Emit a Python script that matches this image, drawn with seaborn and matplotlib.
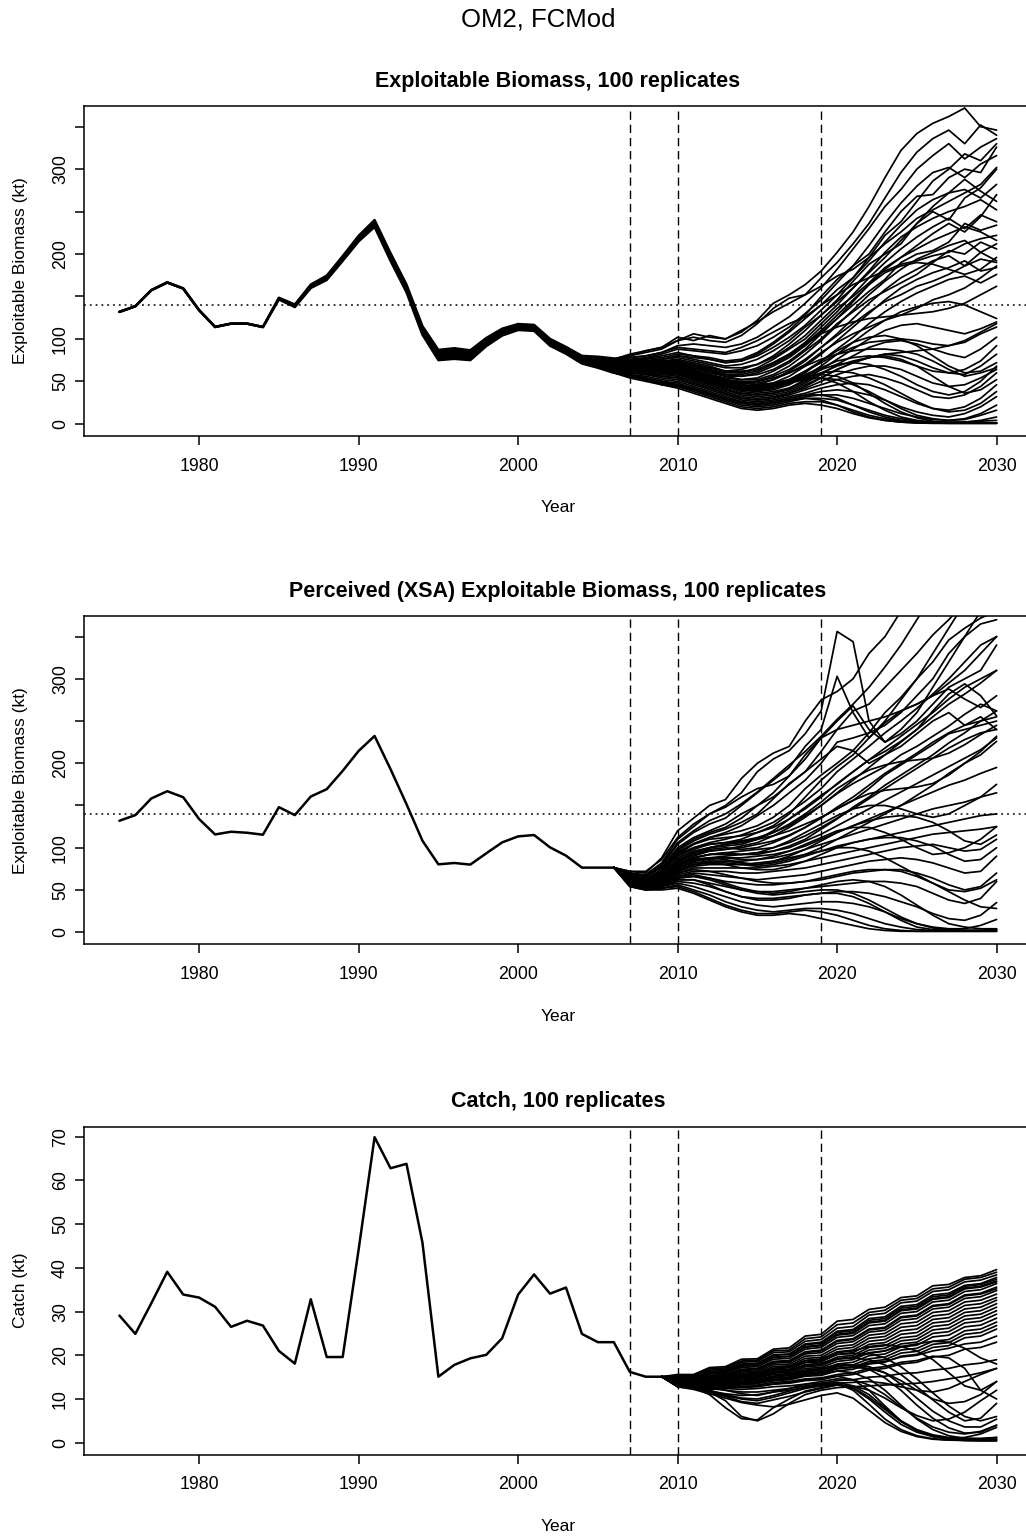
import numpy as np
import pandas as pd
import matplotlib
matplotlib.use("Agg")
import matplotlib.pyplot as plt
import seaborn as sns

# ---------------------------------------------------------------- data
hist_years = list(range(1975, 2007))

# Exploitable biomass (kt), 1975-2006: central run and replicate envelope
eb_hist_mid = [131.8, 138.5, 157.4, 166.5, 159.4, 133.8, 114.1, 118.0, 118.0, 114.0,
               147.6, 138.9, 162.0, 172.0, 194.8, 218.4, 236.0, 196.7, 159.4, 110.0,
               80.6, 82.6, 80.6, 96.3, 108.0, 114.0, 113.0, 96.0, 86.5, 75.5, 72.7, 68.8]
eb_hist_hi = [131.8, 138.5, 157.4, 166.5, 159.4, 133.8, 114.1, 118.0, 118.0, 114.0,
              148.5, 140.5, 164.0, 174.5, 197.5, 221.5, 240.0, 201.0, 164.0, 115.0,
              87.0, 89.0, 86.5, 101.0, 112.0, 117.5, 116.5, 100.0, 90.5, 80.0, 79.0, 77.0]
eb_hist_lo = [131.8, 138.5, 157.4, 166.5, 159.4, 133.8, 114.1, 118.0, 118.0, 114.0,
              146.5, 137.5, 160.0, 169.5, 192.0, 215.0, 232.0, 192.0, 155.0, 105.0,
              75.0, 76.5, 75.0, 91.5, 104.0, 110.5, 109.5, 92.0, 82.5, 71.0, 66.0, 60.0]

# Exploitable biomass projections (kt), 2006-2030
eb_proj_years = list(range(2006, 2031))
eb_proj = [
    [76, 82, 86, 90, 102, 98, 104, 100, 108, 122, 142, 152, 164, 180, 202, 226, 256, 290, 322, 342, 354, 362, 372, 350, 346],
    [77, 80, 84, 88, 98, 102, 98, 96, 104, 118, 136, 148, 152, 172, 190, 212, 236, 266, 296, 320, 336, 346, 330, 352, 340],
    [74, 78, 80, 84, 92, 94, 92, 90, 94, 102, 114, 126, 142, 160, 182, 206, 230, 256, 276, 300, 316, 330, 312, 326, 336],
    [74, 76, 78, 82, 88, 86, 84, 82, 86, 92, 102, 114, 130, 146, 166, 186, 210, 236, 260, 280, 296, 302, 290, 306, 316],
    [72, 74, 76, 78, 82, 80, 76, 72, 74, 80, 90, 102, 116, 134, 152, 172, 192, 214, 234, 252, 264, 272, 276, 266, 282],
    [72, 72, 74, 76, 78, 74, 70, 66, 66, 70, 78, 90, 104, 122, 140, 160, 180, 202, 220, 232, 242, 250, 256, 264, 252],
    [70, 72, 72, 74, 76, 72, 68, 62, 62, 64, 72, 82, 96, 114, 132, 152, 172, 190, 206, 220, 232, 242, 230, 246, 238],
    [70, 70, 72, 72, 74, 70, 64, 58, 56, 58, 64, 74, 88, 106, 124, 144, 164, 182, 196, 206, 216, 224, 232, 226, 216],
    [68, 70, 70, 70, 72, 68, 62, 56, 52, 52, 58, 68, 82, 98, 116, 134, 152, 168, 182, 194, 202, 210, 216, 202, 212],
    [68, 68, 68, 68, 70, 64, 58, 52, 48, 48, 52, 62, 74, 90, 106, 124, 142, 158, 172, 182, 192, 198, 186, 202, 192],
    [66, 68, 68, 68, 68, 62, 56, 50, 46, 44, 48, 56, 68, 82, 98, 114, 130, 146, 160, 170, 178, 184, 192, 180, 184],
    [66, 66, 66, 66, 66, 60, 54, 48, 44, 42, 44, 50, 60, 74, 88, 102, 118, 132, 144, 154, 162, 170, 174, 166, 176],
    [66, 66, 64, 64, 64, 58, 52, 46, 40, 38, 40, 46, 56, 68, 82, 96, 110, 122, 132, 138, 142, 144, 140, 132, 124],
    [64, 64, 64, 62, 62, 56, 50, 44, 38, 36, 38, 42, 52, 64, 76, 88, 100, 110, 116, 118, 114, 110, 106, 112, 120],
    [64, 64, 62, 60, 60, 54, 48, 42, 36, 34, 36, 40, 48, 58, 70, 80, 90, 96, 98, 94, 88, 82, 78, 88, 102],
    [64, 62, 60, 58, 58, 52, 46, 40, 34, 32, 34, 38, 46, 54, 64, 72, 78, 82, 80, 74, 66, 60, 58, 68, 82],
    [62, 62, 60, 58, 56, 50, 44, 38, 32, 30, 32, 36, 42, 50, 58, 64, 68, 68, 64, 56, 48, 44, 46, 54, 64],
    [62, 60, 58, 56, 54, 48, 42, 36, 30, 28, 30, 34, 40, 46, 52, 56, 58, 54, 48, 40, 32, 30, 34, 44, 60],
    [62, 60, 58, 54, 52, 46, 40, 34, 28, 26, 28, 32, 36, 42, 46, 48, 46, 40, 32, 24, 18, 16, 20, 30, 46],
    [60, 58, 56, 52, 50, 44, 38, 32, 26, 24, 26, 30, 34, 38, 40, 38, 34, 28, 20, 14, 10, 8, 12, 20, 32],
    [60, 58, 54, 50, 48, 42, 36, 30, 24, 22, 24, 28, 32, 34, 34, 30, 24, 18, 12, 8, 5, 4, 5, 10, 16],
    [60, 56, 52, 48, 46, 40, 34, 28, 22, 20, 22, 26, 30, 30, 28, 22, 16, 10, 6, 3, 2, 2, 2, 3, 4],
    [60, 56, 52, 46, 44, 38, 32, 26, 20, 18, 20, 24, 26, 26, 22, 16, 10, 6, 3, 1.5, 1, 1, 1, 1, 1],
    [60, 54, 50, 46, 42, 36, 30, 24, 18, 16, 18, 22, 24, 22, 18, 12, 7, 4, 2, 1, 1, 1, 1, 1, 1],
    [76, 80, 86, 90, 98, 106, 102, 100, 110, 120, 132, 142, 152, 162, 174, 182, 196, 212, 226, 242, 252, 262, 272, 282, 302],
    [70, 72, 74, 76, 80, 78, 76, 72, 74, 82, 94, 108, 124, 140, 152, 164, 172, 180, 188, 192, 198, 202, 212, 218, 222],
    [68, 68, 70, 70, 72, 68, 64, 60, 60, 64, 72, 82, 94, 106, 114, 120, 124, 126, 128, 130, 132, 136, 142, 152, 162],
    [64, 64, 66, 64, 64, 60, 56, 52, 50, 50, 54, 60, 68, 76, 82, 86, 88, 88, 86, 82, 74, 64, 56, 60, 66],
    [75, 78, 80, 84, 90, 88, 86, 84, 90, 98, 108, 118, 126, 140, 158, 172, 196, 222, 238, 262, 286, 300, 318, 310, 330],
    [73, 75, 77, 80, 84, 80, 78, 74, 76, 84, 96, 110, 128, 150, 170, 186, 200, 226, 250, 268, 270, 290, 300, 296, 326],
    [71, 73, 74, 76, 80, 76, 72, 68, 70, 76, 86, 98, 114, 128, 146, 168, 188, 200, 212, 236, 250, 240, 266, 278, 300],
    [69, 71, 72, 72, 74, 70, 66, 62, 60, 66, 76, 88, 100, 118, 136, 150, 166, 184, 196, 210, 224, 236, 226, 244, 270],
    [67, 69, 70, 70, 72, 66, 60, 56, 56, 60, 68, 78, 92, 108, 124, 140, 156, 170, 190, 200, 204, 214, 236, 228, 234],
    [65, 67, 68, 68, 68, 62, 58, 54, 52, 54, 62, 72, 86, 100, 118, 132, 146, 156, 166, 176, 190, 204, 200, 214, 206],
    [63, 65, 66, 66, 66, 60, 56, 50, 48, 50, 56, 64, 76, 90, 104, 118, 132, 144, 152, 162, 168, 176, 186, 194, 190],
    [61, 63, 64, 64, 64, 58, 52, 48, 44, 46, 52, 60, 70, 84, 96, 106, 114, 122, 128, 136, 146, 152, 160, 172, 186],
    [63, 64, 64, 62, 60, 56, 50, 46, 42, 42, 46, 52, 62, 72, 82, 90, 96, 98, 100, 98, 94, 92, 96, 106, 114],
    [61, 62, 62, 60, 58, 54, 48, 44, 40, 40, 44, 50, 58, 66, 74, 78, 80, 78, 74, 68, 62, 60, 64, 74, 92],
    [65, 66, 66, 64, 62, 56, 50, 44, 40, 38, 42, 48, 56, 64, 70, 72, 70, 64, 56, 46, 38, 34, 38, 50, 68],
    [67, 68, 68, 66, 64, 58, 52, 46, 42, 40, 42, 48, 54, 60, 62, 60, 54, 46, 36, 26, 18, 14, 16, 24, 38],
    [69, 70, 70, 68, 66, 60, 54, 48, 44, 42, 44, 48, 52, 54, 52, 46, 38, 28, 18, 10, 6, 4, 6, 12, 22],
    [71, 72, 72, 70, 68, 62, 56, 50, 46, 44, 46, 50, 54, 54, 48, 38, 26, 16, 8, 4, 2, 1.5, 2, 4, 8],
    [73, 74, 74, 72, 70, 64, 58, 52, 48, 46, 48, 52, 56, 58, 56, 48, 36, 24, 14, 7, 3, 1.5, 1, 1, 1],
    [64, 64, 62, 60, 58, 52, 46, 40, 36, 34, 36, 42, 50, 60, 68, 74, 78, 80, 76, 68, 56, 44, 36, 40, 52],
    [62, 62, 60, 56, 54, 48, 42, 36, 30, 28, 30, 36, 44, 54, 64, 72, 78, 82, 84, 86, 88, 92, 98, 108, 118],
    [68, 70, 70, 70, 70, 66, 62, 58, 58, 62, 70, 80, 94, 110, 128, 146, 164, 178, 186, 190, 188, 182, 176, 182, 196],
    [70, 72, 74, 74, 74, 70, 66, 62, 64, 70, 80, 94, 110, 128, 144, 160, 178, 196, 216, 236, 256, 272, 288, 274, 262],
    [66, 66, 66, 64, 62, 56, 50, 44, 40, 40, 44, 52, 62, 74, 86, 96, 102, 104, 100, 92, 80, 68, 60, 62, 72],
    [60, 56, 52, 48, 44, 40, 34, 28, 24, 22, 24, 28, 30, 28, 22, 14, 8, 4, 2, 1, 0.5, 0.5, 0.5, 0.5, 0.5],
    [62, 58, 54, 50, 46, 42, 36, 30, 26, 24, 26, 30, 34, 34, 30, 22, 14, 8, 4, 2, 1, 0.5, 0.5, 0.5, 0.5],
]

# Perceived (XSA) exploitable biomass (kt), 1975-2006
xsa_hist = [131.9, 138.6, 158.3, 166.9, 159.8, 133.9, 115.7, 118.9, 117.7, 115.4,
            148.0, 138.6, 160.6, 169.3, 191.0, 214.6, 232.3, 193.0, 151.6, 108.3,
            80.3, 81.9, 80.0, 93.3, 106.3, 113.4, 115.0, 100.4, 90.6, 76.4, 76.4, 76.4]

# Perceived biomass projections (kt), 2007-2030
xsa_proj_years = list(range(2007, 2031))
xsa_proj = [
    [72, 70, 88, 120, 135, 150, 157, 182, 200, 212, 220, 250, 275, 285, 300, 330, 350, 380, 420, 450, 480, 500, 520, 540],
    [70, 68, 82, 110, 125, 140, 150, 165, 190, 205, 215, 235, 262, 356, 344, 250, 225, 240, 260, 290, 320, 350, 380, 400],
    [68, 66, 78, 104, 118, 128, 135, 150, 165, 180, 195, 220, 240, 303, 260, 230, 250, 275, 300, 330, 360, 390, 420, 460],
    [68, 64, 74, 98, 110, 118, 124, 135, 150, 165, 185, 210, 230, 250, 268, 240, 225, 235, 250, 270, 290, 300, 310, 340],
    [66, 62, 72, 94, 105, 112, 118, 126, 138, 150, 165, 180, 200, 225, 230, 236, 245, 260, 280, 300, 330, 350, 365, 370],
    [66, 62, 70, 90, 100, 106, 110, 115, 122, 130, 142, 155, 170, 190, 205, 220, 236, 250, 265, 282, 300, 320, 340, 350],
    [64, 60, 68, 86, 96, 100, 104, 108, 112, 118, 126, 138, 150, 165, 180, 195, 210, 225, 240, 255, 270, 282, 295, 310],
    [64, 60, 66, 84, 92, 96, 98, 100, 104, 108, 115, 124, 135, 148, 160, 174, 188, 200, 212, 225, 236, 245, 250, 255],
    [64, 58, 64, 80, 88, 92, 94, 96, 98, 100, 106, 114, 124, 135, 146, 158, 170, 182, 194, 206, 218, 228, 236, 240],
    [62, 58, 64, 78, 86, 88, 90, 92, 94, 96, 100, 108, 116, 126, 136, 146, 156, 166, 176, 186, 196, 206, 216, 230],
    [62, 58, 62, 76, 84, 86, 88, 88, 90, 92, 96, 102, 110, 118, 126, 134, 142, 150, 158, 166, 174, 180, 188, 195],
    [62, 56, 62, 74, 80, 84, 84, 84, 86, 88, 92, 98, 104, 110, 116, 122, 128, 134, 140, 146, 150, 154, 160, 165],
    [62, 56, 60, 72, 78, 80, 80, 80, 82, 84, 88, 92, 96, 102, 106, 110, 114, 118, 122, 126, 130, 134, 138, 140],
    [60, 56, 60, 70, 76, 76, 76, 76, 76, 78, 80, 84, 88, 92, 96, 100, 104, 108, 112, 116, 118, 120, 122, 125],
    [60, 56, 58, 68, 72, 72, 72, 70, 70, 72, 74, 76, 80, 84, 88, 92, 96, 100, 102, 104, 100, 96, 98, 110],
    [60, 54, 58, 66, 70, 68, 66, 64, 62, 64, 66, 68, 72, 76, 80, 84, 86, 88, 86, 82, 76, 70, 72, 90],
    [58, 54, 56, 64, 66, 64, 60, 58, 56, 56, 58, 60, 62, 66, 70, 72, 74, 74, 70, 64, 56, 50, 54, 70],
    [58, 54, 56, 62, 62, 58, 54, 50, 48, 48, 50, 52, 54, 56, 58, 60, 60, 58, 54, 46, 38, 34, 40, 60],
    [58, 52, 54, 60, 58, 54, 48, 42, 40, 40, 42, 44, 46, 48, 48, 46, 42, 36, 30, 22, 16, 14, 20, 35],
    [56, 52, 54, 58, 54, 48, 42, 36, 32, 30, 32, 34, 36, 36, 34, 30, 24, 16, 10, 6, 4, 4, 8, 15],
    [56, 52, 52, 56, 50, 44, 36, 30, 26, 24, 26, 28, 28, 26, 22, 16, 10, 6, 3, 2, 2, 2, 2, 3],
    [56, 50, 52, 54, 48, 40, 32, 26, 22, 22, 24, 26, 24, 20, 14, 8, 4, 2, 1, 1, 1, 1, 1, 1],
    [54, 50, 50, 52, 46, 38, 30, 24, 20, 20, 22, 20, 16, 12, 8, 4, 2, 1, 1, 1, 1, 1, 1, 1],
    [72, 72, 86, 112, 128, 140, 148, 160, 170, 175, 185, 205, 230, 240, 245, 250, 255, 262, 270, 280, 295, 310, 330, 350],
    [70, 66, 76, 100, 112, 120, 128, 140, 150, 160, 175, 190, 205, 220, 215, 200, 210, 220, 235, 250, 260, 245, 255, 240],
    [66, 62, 70, 92, 100, 104, 106, 108, 110, 114, 120, 128, 136, 146, 156, 170, 186, 198, 210, 222, 235, 240, 245, 250],
    [66, 62, 72, 96, 108, 116, 122, 130, 140, 158, 176, 190, 214, 240, 262, 270, 290, 310, 330, 352, 370, 390, 410, 420],
    [64, 60, 70, 92, 104, 112, 116, 120, 126, 136, 150, 170, 186, 200, 215, 236, 260, 278, 300, 320, 346, 360, 372, 380],
    [62, 58, 66, 88, 98, 104, 106, 110, 118, 126, 140, 160, 180, 196, 210, 230, 248, 262, 270, 280, 288, 276, 266, 280],
    [60, 56, 64, 84, 94, 100, 102, 104, 110, 120, 134, 148, 162, 175, 190, 204, 214, 226, 240, 262, 282, 294, 280, 256],
    [58, 54, 62, 80, 90, 96, 98, 102, 106, 114, 124, 136, 150, 164, 176, 186, 196, 210, 220, 232, 244, 258, 270, 262],
    [62, 58, 64, 82, 92, 98, 100, 98, 100, 106, 114, 124, 136, 146, 156, 164, 168, 170, 172, 176, 186, 200, 210, 226],
    [60, 56, 62, 78, 88, 92, 94, 92, 94, 100, 108, 118, 128, 138, 146, 150, 150, 146, 140, 136, 140, 150, 160, 175],
    [58, 54, 60, 76, 84, 88, 88, 86, 86, 90, 96, 104, 112, 120, 124, 124, 118, 110, 100, 92, 94, 100, 110, 125],
    [56, 52, 58, 72, 80, 82, 82, 80, 78, 80, 84, 90, 96, 100, 100, 96, 88, 78, 68, 58, 50, 48, 52, 62],
    [60, 56, 62, 74, 80, 82, 80, 76, 74, 74, 78, 84, 92, 100, 106, 110, 112, 112, 108, 102, 92, 84, 86, 100],
    [62, 58, 64, 80, 86, 88, 86, 82, 80, 84, 90, 98, 108, 118, 126, 132, 136, 138, 136, 130, 120, 108, 104, 115],
    [64, 60, 66, 84, 94, 100, 104, 106, 110, 118, 128, 140, 154, 170, 182, 192, 198, 202, 204, 206, 212, 222, 234, 245],
    [58, 54, 60, 70, 74, 72, 68, 64, 60, 58, 58, 60, 64, 68, 72, 74, 74, 72, 66, 58, 48, 38, 30, 28],
    [56, 52, 56, 66, 68, 64, 58, 52, 48, 46, 48, 52, 56, 60, 62, 60, 54, 44, 32, 20, 10, 6, 4, 4],
    [54, 50, 54, 62, 62, 56, 48, 42, 38, 38, 40, 44, 46, 46, 42, 34, 24, 14, 6, 3, 2, 2, 2, 2],
    [56, 52, 56, 64, 66, 62, 56, 50, 46, 44, 46, 48, 50, 50, 46, 38, 28, 18, 10, 5, 3, 2, 2, 3],
    [68, 66, 80, 106, 120, 132, 140, 152, 166, 182, 198, 214, 232, 252, 270, 290, 314, 340, 370, 400, 420, 440, 460, 480],
    [66, 62, 72, 94, 104, 110, 112, 114, 118, 124, 134, 146, 160, 176, 190, 204, 218, 232, 246, 260, 276, 290, 300, 310],
    [62, 58, 64, 80, 88, 92, 92, 92, 92, 96, 102, 110, 122, 134, 148, 160, 174, 186, 198, 210, 224, 236, 250, 262],
    [60, 56, 62, 76, 82, 84, 84, 82, 80, 82, 86, 92, 100, 110, 120, 130, 140, 150, 162, 174, 188, 200, 214, 232],
]

# Catch (kt), 1975-2009
catch_years = list(range(1975, 2010))
catch_hist = [29.1, 24.9, 31.9, 39.1, 33.9, 33.2, 31.1, 26.5, 27.9, 26.8,
              21.0, 18.1, 32.8, 19.6, 19.6, 44.2, 69.9, 62.8, 63.8, 45.8,
              15.1, 17.8, 19.3, 20.1, 23.9, 33.9, 38.5, 34.1, 35.5, 24.9,
              23.0, 23.0, 16.2, 15.1, 15.1]

# Catch projections (kt), 2010-2030
catch_proj_years = list(range(2010, 2031))
catch_proj = [
    [15.6, 15.6, 17.2, 17.4, 19.1, 19.2, 21.4, 21.7, 24.4, 24.8, 27.8, 28.2, 30.5, 31.0, 33.2, 33.6, 35.9, 36.2, 37.8, 38.2, 39.6],
    [15.2, 15.2, 16.6, 16.8, 18.4, 18.6, 20.6, 20.8, 23.2, 23.6, 26.2, 26.6, 29.2, 29.6, 32.0, 32.4, 34.6, 35.0, 36.8, 37.2, 38.4],
    [14.8, 14.8, 16.0, 16.2, 17.6, 17.8, 19.6, 19.8, 22.0, 22.4, 24.8, 25.2, 27.6, 28.0, 30.4, 30.8, 33.0, 33.4, 35.4, 35.8, 37.0],
    [14.5, 14.5, 15.4, 15.6, 16.8, 17.0, 18.6, 18.8, 20.8, 21.2, 23.4, 23.8, 26.0, 26.4, 28.8, 29.2, 31.4, 31.8, 33.8, 34.2, 35.6],
    [14.2, 14.2, 15.0, 15.2, 16.2, 16.4, 17.8, 18.0, 19.8, 20.0, 22.0, 22.4, 24.6, 25.0, 27.2, 27.6, 29.8, 30.2, 32.2, 32.6, 34.0],
    [14.0, 14.0, 14.6, 14.8, 15.6, 15.8, 17.0, 17.2, 18.8, 19.0, 20.8, 21.2, 23.2, 23.6, 25.6, 26.0, 28.2, 28.6, 30.6, 31.0, 32.6],
    [13.8, 13.8, 14.2, 14.4, 15.0, 15.2, 16.2, 16.4, 17.8, 18.0, 19.6, 20.0, 21.8, 22.2, 24.0, 24.4, 26.6, 27.0, 29.0, 29.4, 31.0],
    [13.6, 13.6, 13.8, 14.0, 14.6, 14.8, 15.6, 15.8, 17.0, 17.2, 18.6, 19.0, 20.6, 21.0, 22.6, 23.0, 25.0, 25.4, 27.4, 27.8, 29.4],
    [13.4, 13.4, 13.4, 13.6, 14.0, 14.2, 14.8, 15.0, 16.0, 16.2, 17.4, 17.8, 19.2, 19.6, 21.2, 21.6, 23.2, 23.6, 25.6, 26.0, 27.6],
    [13.2, 13.2, 13.0, 13.2, 13.4, 13.6, 14.2, 14.4, 15.2, 15.4, 16.4, 16.8, 18.0, 18.4, 19.8, 20.2, 21.8, 22.2, 24.0, 24.4, 26.0],
    [13.0, 13.0, 12.6, 12.8, 12.8, 13.0, 13.4, 13.6, 14.2, 14.4, 15.2, 15.6, 16.6, 17.0, 18.0, 18.4, 19.6, 20.0, 21.4, 21.8, 23.0],
    [13.0, 12.8, 12.2, 12.4, 12.2, 12.4, 12.8, 13.0, 13.4, 13.6, 14.2, 14.4, 15.0, 15.2, 15.8, 16.0, 16.6, 17.0, 17.8, 18.2, 19.0],
    [12.8, 12.6, 11.8, 11.2, 10.8, 11.0, 11.6, 12.0, 12.6, 13.0, 13.6, 13.8, 14.0, 13.6, 12.8, 12.0, 11.6, 12.4, 14.0, 15.6, 17.0],
    [12.8, 12.4, 11.4, 10.6, 9.4, 9.0, 9.8, 10.6, 11.6, 12.4, 13.2, 13.0, 12.0, 10.2, 8.0, 6.2, 5.0, 5.4, 7.0, 9.6, 12.0],
    [13.0, 12.6, 11.0, 8.0, 5.5, 5.2, 8.0, 10.0, 11.8, 12.6, 13.2, 12.4, 10.0, 7.0, 4.2, 2.4, 1.4, 1.0, 1.2, 2.0, 3.5],
    [12.8, 12.2, 11.2, 10.2, 9.2, 8.6, 8.2, 8.8, 9.8, 10.8, 11.4, 10.2, 7.4, 4.6, 2.6, 1.4, 0.8, 0.6, 0.6, 0.6, 0.8],
    [13.2, 13.0, 12.4, 12.0, 11.6, 11.6, 12.0, 12.4, 13.0, 13.4, 13.6, 12.0, 8.8, 5.4, 3.0, 1.6, 0.9, 0.6, 0.5, 0.5, 0.5],
    [13.4, 13.2, 12.8, 12.6, 12.6, 12.8, 13.4, 13.8, 14.4, 14.8, 15.2, 14.4, 12.0, 8.4, 5.0, 2.8, 1.4, 0.8, 0.5, 0.4, 0.4],
    [13.6, 13.4, 13.2, 13.2, 13.4, 13.6, 14.2, 14.6, 15.4, 15.8, 16.4, 16.0, 14.6, 12.0, 8.6, 5.4, 3.0, 1.6, 1.0, 0.8, 1.2],
    [14.0, 13.8, 13.6, 13.8, 14.2, 14.4, 15.2, 15.6, 16.6, 17.0, 17.8, 17.8, 16.8, 14.8, 12.0, 8.6, 5.6, 3.4, 2.2, 2.4, 4.0],
    [14.4, 14.2, 14.2, 14.4, 15.0, 15.2, 16.2, 16.6, 17.8, 18.2, 19.2, 19.4, 19.0, 17.8, 15.6, 12.8, 9.8, 7.0, 5.0, 5.6, 9.0],
    [13.0, 12.6, 11.6, 9.6, 6.0, 5.0, 6.6, 9.0, 11.0, 12.0, 12.6, 12.8, 13.0, 13.2, 13.4, 13.6, 14.0, 14.6, 15.2, 16.0, 17.0],
    [14.6, 14.4, 14.6, 14.8, 15.6, 15.8, 17.0, 17.4, 18.8, 19.2, 20.6, 21.0, 22.0, 22.4, 22.0, 21.0, 19.0, 16.0, 13.0, 12.0, 14.0],
    [13.6, 13.4, 13.0, 13.0, 13.2, 13.2, 13.8, 14.0, 14.6, 14.8, 15.6, 16.0, 17.0, 17.4, 18.4, 18.8, 19.8, 19.4, 17.0, 12.0, 10.0],
    [15.4, 15.4, 16.9, 17.1, 18.7, 18.9, 21.0, 21.2, 23.8, 24.2, 27.0, 27.4, 29.8, 30.3, 32.6, 33.0, 35.2, 35.6, 37.4, 37.8, 39.0],
    [15.0, 15.0, 16.3, 16.5, 18.0, 18.2, 20.1, 20.3, 22.6, 23.0, 25.5, 25.9, 28.4, 28.8, 31.2, 31.6, 33.8, 34.2, 36.0, 36.4, 37.8],
    [14.7, 14.7, 15.7, 15.9, 17.2, 17.4, 19.1, 19.3, 21.4, 21.8, 24.1, 24.5, 26.8, 27.2, 29.6, 30.0, 32.2, 32.6, 34.6, 35.0, 36.4],
    [14.4, 14.4, 15.2, 15.4, 16.5, 16.7, 18.2, 18.4, 20.3, 20.6, 22.7, 23.1, 25.3, 25.7, 28.0, 28.4, 30.6, 31.0, 33.0, 33.4, 34.8],
    [14.1, 14.1, 14.8, 15.0, 15.9, 16.1, 17.4, 17.6, 19.3, 19.5, 21.4, 21.8, 23.9, 24.3, 26.4, 26.8, 29.0, 29.4, 31.4, 31.8, 33.2],
    [13.9, 13.9, 14.4, 14.6, 15.3, 15.5, 16.6, 16.8, 18.3, 18.5, 20.2, 20.6, 22.5, 22.9, 24.8, 25.2, 27.4, 27.8, 29.8, 30.2, 31.8],
    [13.7, 13.7, 14.0, 14.2, 14.8, 15.0, 15.9, 16.1, 17.4, 17.6, 19.1, 19.5, 21.2, 21.6, 23.3, 23.7, 25.8, 26.2, 28.2, 28.6, 30.2],
    [14.6, 14.6, 15.9, 16.1, 17.5, 17.7, 19.5, 19.7, 21.8, 22.2, 24.6, 25.0, 27.4, 27.8, 30.2, 30.6, 32.8, 33.2, 35.2, 35.6, 36.8],
    [14.3, 14.3, 15.3, 15.5, 16.7, 16.9, 18.5, 18.7, 20.6, 21.0, 23.2, 23.6, 25.8, 26.2, 28.6, 29.0, 31.2, 31.6, 33.6, 34.0, 35.2],
    [14.9, 14.9, 16.2, 16.4, 17.9, 18.1, 20.0, 20.2, 22.4, 22.8, 25.2, 25.6, 28.0, 28.4, 30.8, 31.2, 33.4, 33.8, 35.8, 36.2, 37.4],
    [13.5, 13.5, 13.6, 13.8, 14.3, 14.5, 15.2, 15.4, 16.5, 16.7, 18.0, 18.4, 19.9, 20.3, 21.9, 22.3, 24.2, 24.6, 26.5, 26.9, 28.5],
    [13.3, 13.3, 13.2, 13.4, 13.7, 13.9, 14.5, 14.7, 15.6, 15.8, 16.9, 17.3, 18.6, 19.0, 20.5, 20.9, 22.5, 22.9, 24.8, 25.2, 26.8],
    [14.2, 14.0, 13.6, 13.4, 13.6, 13.8, 14.6, 15.0, 15.8, 16.2, 17.0, 17.2, 17.0, 16.0, 14.2, 12.0, 10.0, 9.0, 9.4, 11.0, 14.0],
    [13.8, 13.4, 12.8, 12.0, 11.2, 10.8, 11.6, 12.4, 13.4, 14.0, 14.6, 14.4, 13.2, 11.0, 8.2, 5.6, 3.6, 2.4, 2.0, 2.6, 4.0],
    [13.2, 12.8, 12.0, 11.0, 10.2, 10.0, 10.8, 11.8, 12.8, 13.4, 13.8, 13.0, 11.0, 8.0, 5.0, 3.0, 1.8, 1.2, 1.0, 1.0, 1.2],
    [14.4, 14.2, 14.4, 14.6, 15.4, 15.6, 16.8, 17.2, 18.4, 18.8, 20.2, 20.4, 20.4, 19.4, 17.4, 14.6, 11.4, 8.4, 6.0, 5.0, 6.0],
    [13.9, 13.7, 13.6, 13.6, 14.0, 14.2, 15.0, 15.4, 16.2, 16.6, 17.6, 17.8, 17.4, 16.0, 13.4, 10.2, 7.2, 5.0, 3.6, 3.6, 5.4],
    [12.9, 12.5, 11.6, 10.8, 10.0, 9.6, 10.4, 11.4, 12.4, 13.0, 13.4, 12.6, 10.4, 7.6, 4.8, 2.8, 1.6, 1.0, 0.8, 0.8, 0.8],
    [14.1, 14.0, 14.2, 14.4, 15.0, 15.2, 16.2, 16.6, 17.6, 18.0, 19.2, 19.6, 20.4, 21.0, 22.0, 22.6, 23.2, 23.0, 21.6, 19.4, 18.0],
    [13.7, 13.5, 13.2, 13.2, 13.6, 13.8, 14.6, 14.8, 15.8, 16.0, 17.0, 17.4, 18.2, 18.6, 19.6, 20.0, 21.0, 21.6, 22.6, 23.0, 24.4],
]

ref_biomass = 140.0
marker_years = [2007, 2010, 2019]

panel_titles = ["Exploitable Biomass, 100 replicates",
                "Perceived (XSA) Exploitable Biomass, 100 replicates",
                "Catch, 100 replicates"]
y_labels = ["Exploitable Biomass (kt)", "Exploitable Biomass (kt)", "Catch (kt)"]
x_label = "Year"
main_title = "OM2, FCMod"

x_ticks = [1980, 1990, 2000, 2010, 2020, 2030]
bio_ticks = [0, 50, 100, 150, 200, 250, 300, 350]
bio_tick_labels = ["0", "50", "100", "", "200", "", "300", ""]
catch_ticks = [0, 10, 20, 30, 40, 50, 60, 70]
catch_tick_labels = ["0", "10", "20", "30", "40", "50", "60", "70"]


def long_form(years, runs, start=None):
    """Stack replicate runs into a long table; optionally prefix a shared start point."""
    rows = []
    for rep, run in enumerate(runs):
        ys = list(years)
        vs = list(run)
        if start is not None:
            ys = [start[0]] + ys
            vs = [start[1]] + vs
        for yr, v in zip(ys, vs):
            rows.append({"year": yr, "value": v, "rep": rep})
    return pd.DataFrame(rows)


# ---------------------------------------------------------------- style
sns.set_theme(style="ticks")
plt.rcParams['font.family'] = ['Liberation Sans', 'DejaVu Sans']
plt.rcParams['axes.linewidth'] = 1.1
plt.rcParams['axes.edgecolor'] = 'black'
plt.rcParams['text.color'] = 'black'
plt.rcParams['axes.labelcolor'] = 'black'
plt.rcParams['xtick.color'] = 'black'
plt.rcParams['ytick.color'] = 'black'

W, H = 1026, 1538
fig = plt.figure(figsize=(W / 100, H / 100), dpi=100)

# axes boxes in pixels: left, right, top, bottom
boxes = [(84.3, 1031.7, 106.0, 436.0),
         (84.3, 1031.7, 616.0, 944.3),
         (84.3, 1031.7, 1126.7, 1454.5)]

LW_FAN = 1.25
LW_HIST = 1.8
TICK_FS = 12.8
LABEL_FS = 12.5
TITLE_FS = 15.5


def make_axes(box):
    l, r, t, b = box
    return fig.add_axes([l / W, 1 - b / H, (r - l) / W, (b - t) / H])


def decorate(ax, box, title, ylabel, yticks, yticklabels, ylim):
    l, r, t, b = box
    hpx = b - t
    ax.set_xlim(1972.8, 2032.2)
    ax.set_ylim(*ylim)
    ax.set_xticks(x_ticks)
    ax.set_xticklabels([str(x) for x in x_ticks])
    ax.set_yticks(yticks)
    ax.set_yticklabels(yticklabels)
    ax.tick_params(axis='both', direction='out', length=6.5, width=1.1,
                   colors='black', labelsize=TICK_FS)
    ax.tick_params(axis='x', pad=9)
    ax.tick_params(axis='y', pad=4.5)
    plt.setp(ax.get_yticklabels(), rotation=90, va='center')
    for sp in ax.spines.values():
        sp.set_visible(True)
        sp.set_color('black')
        sp.set_linewidth(1.1)
    for yr in marker_years:
        ax.axvline(yr, color='black', lw=1.0, dashes=(6, 3.5), zorder=1)
    ax.set_xlabel(x_label, fontsize=LABEL_FS, va='center', color='black')
    ax.xaxis.set_label_coords(0.5, -71.8 / hpx)
    ax.set_ylabel(ylabel, fontsize=LABEL_FS, va='center', color='black')
    ax.yaxis.set_label_coords((20.5 - l) / (r - l), 0.5)
    ax.text(0.5, 1 + 25.0 / hpx, title, transform=ax.transAxes, ha='center',
            va='center', fontsize=TITLE_FS, fontweight='bold', color='black')


# ---------------------------------------------------------------- panel 1
ax1 = make_axes(boxes[0])
ax1.fill_between(hist_years, eb_hist_lo, eb_hist_hi, color='black', lw=0, zorder=2)
for series in (eb_hist_lo, eb_hist_mid, eb_hist_hi):
    sns.lineplot(x=hist_years, y=series, ax=ax1, color='black', lw=LW_HIST, zorder=3)
df1 = long_form(eb_proj_years, eb_proj)
sns.lineplot(data=df1, x="year", y="value", units="rep", estimator=None,
             color='black', lw=LW_FAN, ax=ax1, zorder=3)
ax1.axhline(ref_biomass, color='black', lw=1.1, dashes=(1.2, 2.6), zorder=1)
decorate(ax1, boxes[0], panel_titles[0], y_labels[0], bio_ticks, bio_tick_labels,
         (-14.4, 374.4))

# ---------------------------------------------------------------- panel 2
ax2 = make_axes(boxes[1])
sns.lineplot(x=hist_years, y=xsa_hist, ax=ax2, color='black', lw=LW_HIST, zorder=3)
df2 = long_form(xsa_proj_years, xsa_proj, start=(hist_years[-1], xsa_hist[-1]))
sns.lineplot(data=df2, x="year", y="value", units="rep", estimator=None,
             color='black', lw=LW_FAN, ax=ax2, zorder=3)
ax2.axhline(ref_biomass, color='black', lw=1.1, dashes=(1.2, 2.6), zorder=1)
decorate(ax2, boxes[1], panel_titles[1], y_labels[1], bio_ticks, bio_tick_labels,
         (-14.4, 374.4))

# ---------------------------------------------------------------- panel 3
ax3 = make_axes(boxes[2])
sns.lineplot(x=catch_years, y=catch_hist, ax=ax3, color='black', lw=LW_HIST, zorder=3)
df3 = long_form(catch_proj_years, catch_proj, start=(catch_years[-1], catch_hist[-1]))
sns.lineplot(data=df3, x="year", y="value", units="rep", estimator=None,
             color='black', lw=LW_FAN, ax=ax3, zorder=3)
decorate(ax3, boxes[2], panel_titles[2], y_labels[2], catch_ticks, catch_tick_labels,
         (-2.7, 72.3))

for ax in (ax1, ax2, ax3):
    leg = ax.get_legend()
    if leg is not None:
        leg.remove()

fig.text(538 / W, 1 - 19.2 / H, main_title, ha='center', va='center', fontsize=18.5)

fig.savefig("out.png", dpi=100)
